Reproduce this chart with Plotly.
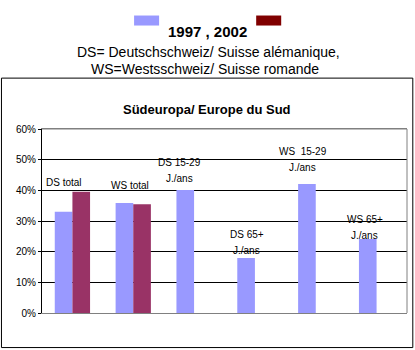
import plotly.graph_objects as go

# Categories and shares (fraction of respondents)
categories = ["DS total", "WS total", "DS 15-29 J./ans", "DS 65+ J./ans",
              "WS 15-29 J./ans", "WS 65+ J./ans"]
label_lines = [["DS total"], ["WS total"], ["DS 15-29", "J./ans"], ["DS 65+", "J./ans"],
               ["WS  15-29", "J./ans"], ["WS 65+", "J./ans"]]
values_1997 = [0.33, 0.359, 0.401, 0.179, 0.421, 0.241]
values_2002 = [0.395, 0.355, None, None, None, None]
y_ticks = [0, 0.1, 0.2, 0.3, 0.4, 0.5, 0.6]

C1997 = "#9999FF"
C2002 = "#993366"
FONT = "Arial, 'Liberation Sans', sans-serif"

W, H = 415, 350
L, R, T, B = 42, 406.7, 129.3, 313


def px_x(px):
    return (px - L) / (R - L)


def px_y(py):
    return (B - py) / (B - T)


fig = go.Figure()
fig.add_bar(x=categories, y=values_1997, name="1997", marker_color=C1997,
            marker_line_width=0)
fig.add_bar(x=categories, y=values_2002, name="2002", marker_color=C2002,
            marker_line_width=0)

annotations = []
# category labels above the bars: (x offset px, centre of first line in px)
label_pos = [(-8, 183), (-3, 186), (-15, 163), (-8, 235), (-13, 152), (-12, 220)]
for i, (lines, (dx, py)) in enumerate(zip(label_lines, label_pos)):
    for k, line in enumerate(lines):
        annotations.append(dict(
            x=i, xref="x", y=px_y(py + 16 * k), yref="paper",
            text=line, showarrow=False, xshift=dx,
            xanchor="center", yanchor="middle",
            font=dict(family=FONT, size=10, color="black")))

# chart title
annotations.append(dict(x=px_x(206.5), y=px_y(100), xref="paper", yref="paper",
                        text="<b>Südeuropa/ Europe du Sud</b>", showarrow=False,
                        font=dict(family=FONT, size=13, color="black")))
# header legend and notes
annotations.append(dict(x=px_x(207.5), y=px_y(21), xref="paper", yref="paper",
                        text="<b>1997 , 2002</b>", showarrow=False,
                        font=dict(family=FONT, size=15, color="black")))
annotations.append(dict(x=px_x(208.5), y=px_y(42), xref="paper", yref="paper",
                        text="DS= Deutschschweiz/ Suisse alémanique,", showarrow=False,
                        font=dict(family=FONT, size=14, color="black")))
annotations.append(dict(x=px_x(205), y=px_y(59), xref="paper", yref="paper",
                        text="WS=Westsschweiz/ Suisse romande", showarrow=False,
                        font=dict(family=FONT, size=14, color="black")))

shapes = [
    # outer frame
    dict(type="rect", xref="paper", yref="paper",
         x0=px_x(1.5), x1=px_x(412.5), y0=px_y(347.5), y1=px_y(78.5),
         line=dict(color="black", width=1), layer="below"),
    # grey top and right edges of the plot area
    dict(type="line", xref="paper", yref="paper", x0=1, x1=1, y0=0, y1=1,
         line=dict(color="#808080", width=1)),
    dict(type="line", xref="paper", yref="paper", x0=0, x1=1, y0=1, y1=1,
         line=dict(color="#808080", width=1)),
    # legend swatches
    dict(type="rect", xref="paper", yref="paper",
         x0=px_x(134), x1=px_x(159), y0=px_y(26), y1=px_y(16),
         fillcolor=C1997, line_width=0),
    dict(type="rect", xref="paper", yref="paper",
         x0=px_x(256), x1=px_x(281), y0=px_y(26), y1=px_y(16),
         fillcolor="#800000", line_width=0),
]

fig.update_layout(
    width=W, height=H,
    margin=dict(l=L, r=W - R, t=T, b=H - B, pad=0),
    paper_bgcolor="white", plot_bgcolor="white",
    barmode="group", bargap=0.42, bargroupgap=0,
    showlegend=False,
    annotations=annotations, shapes=shapes,
    font=dict(family=FONT, size=10, color="black"),
)
fig.update_xaxes(showticklabels=False, ticks="", showgrid=False,
                 showline=True, linecolor="#808080", linewidth=1, mirror=True,
                 zeroline=False)
fig.update_yaxes(range=[0, 0.6], tickvals=y_ticks, tickformat=".0%",
                 showgrid=True, gridcolor="black", gridwidth=1,
                 showline=True, linecolor="black", linewidth=1,
                 ticks="outside", ticklen=3, tickcolor="black",
                 zeroline=False, tickfont=dict(family=FONT, size=10, color="black"))

fig.write_html("out.html")
